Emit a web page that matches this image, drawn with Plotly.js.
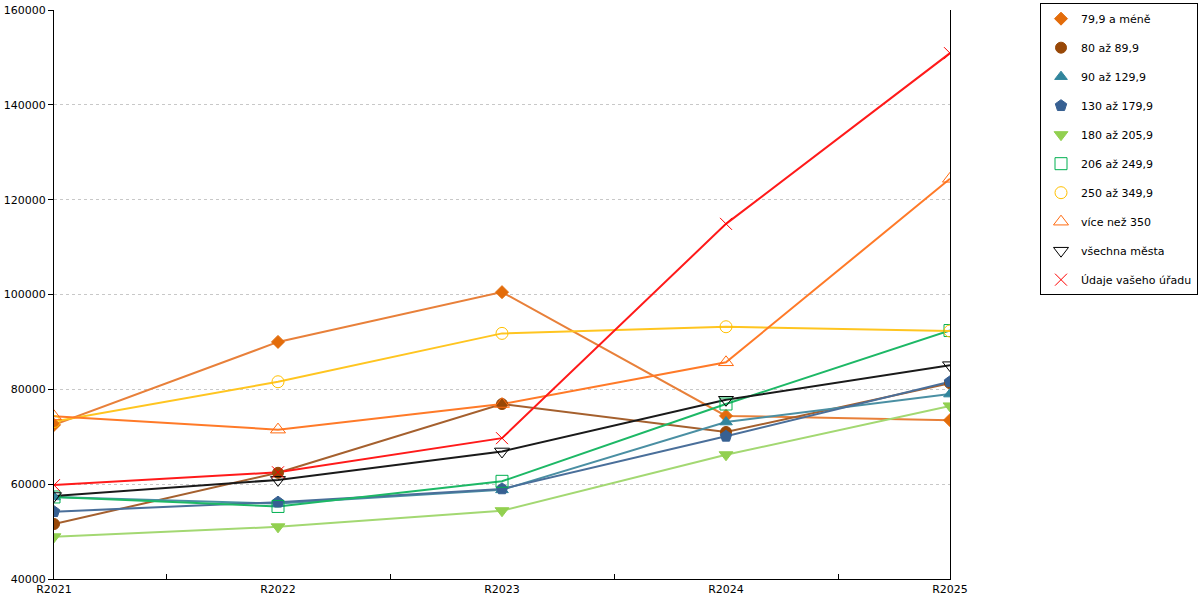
<!DOCTYPE html>
<html>
<head>
<meta charset="utf-8">
<script src="https://cdn.plot.ly/plotly-3.0.1.min.js"></script>
<style>
  html, body { margin: 0; padding: 0; background: #fff; }
  #chart { width: 1200px; height: 600px; }
</style>
</head>
<body>
<div id="chart"></div>
<script>
const years = ['R2021', 'R2022', 'R2023', 'R2024', 'R2025'];

const seriesNames = [
  '79,9 a méně', '80 až 89,9', '90 až 129,9', '130 až 179,9', '180 až 205,9',
  '206 až 249,9', '250 až 349,9', 'více než 350', 'všechna města', 'Údaje vašeho úřadu'
];

const s799 = [72500, 90000, 100500, 74400, 73500];
const s80 = [51600, 62400, 76900, 71000, 81300];
const s90 = [57300, 55900, 58800, 73100, 79000];
const s130 = [54200, 56200, 59000, 70100, 81600];
const s180 = [48900, 51000, 54400, 66200, 76500];
const s206 = [57300, 55300, 60600, 76900, 92400];
const s250 = [73200, 81600, 91800, 93200, 92300];
const s350 = [74300, 71500, 76900, 85700, 124400];
const sAll = [57500, 60900, 66900, 77800, 85100];
const sOffice = [59800, 62500, 69700, 114900, 150900];

const seriesValues = [s799, s80, s90, s130, s180, s206, s250, s350, sAll, sOffice];
const markerColors = ['#E36C0A', '#984807', '#31859C', '#376092', '#92D050',
                      '#00B050', '#FFC000', '#FF6B10', '#000000', '#FF0000'];
const lineColors = ['#E8803A', '#A5602E', '#4A8FA3', '#4A6F9A', '#A3D872',
                    '#1DB866', '#FFC520', '#FF7A28', '#1A1A1A', '#FF1A1A'];
const symbols = ['diamond', 'circle', 'triangle-up', 'pentagon', 'triangle-down',
                 'square-open', 'circle-open', 'triangle-up-open', 'triangle-down-open', 'x-thin-open'];
const sizes = [10, 11, 11, 12, 12, 12, 12, 13, 13, 12];

const xIdx = years.map((_, i) => i);

// lines without legend entries, markers carry the legend (reference legend shows symbols only)
const lineTraces = seriesValues.map((vals, i) => ({
  x: xIdx,
  y: vals,
  name: seriesNames[i],
  legendgroup: 'g' + i,
  showlegend: false,
  mode: 'lines',
  type: 'scatter',
  line: { color: lineColors[i], width: 2 }
}));

const markerTraces = seriesValues.map((vals, i) => ({
  x: xIdx,
  y: vals,
  name: seriesNames[i],
  legendgroup: 'g' + i,
  mode: 'markers',
  type: 'scatter',
  marker: {
    symbol: symbols[i],
    size: sizes[i],
    color: markerColors[i],
    line: { color: markerColors[i], width: 1 }
  }
}));

const layout = {
  width: 1200,
  height: 600,
  margin: { l: 54, r: 250, t: 10, b: 21, autoexpand: false },
  paper_bgcolor: '#ffffff',
  plot_bgcolor: '#ffffff',
  font: { family: 'DejaVu Sans, Verdana, sans-serif', size: 11, color: '#000' },
  showlegend: true,
  legend: {
    x: 1.2768, xanchor: 'right',
    y: 1.012, yanchor: 'top',
    bordercolor: '#000', borderwidth: 1,
    traceorder: 'grouped',
    tracegroupgap: 10,
    itemwidth: 30,
    font: { size: 11 }
  },
  xaxis: {
    range: [0, 4],
    tickvals: xIdx,
    ticktext: years,
    ticks: '',
    showgrid: false,
    zeroline: false,
    showline: true,
    linecolor: '#000',
    linewidth: 1,
    minor: { tick0: 0.5, dtick: 1, ticks: 'inside', ticklen: 5, tickcolor: '#000', showgrid: false },
    tickfont: { size: 11 }
  },
  yaxis: {
    range: [40000, 160000],
    dtick: 20000,
    ticks: 'outside',
    ticklen: 5,
    tickcolor: '#000',
    showline: true,
    linecolor: '#000',
    linewidth: 1,
    mirror: true,
    zeroline: false,
    showgrid: true,
    gridcolor: '#c8c8c8',
    griddash: 'dot',
    gridwidth: 1,
    tickformat: 'd',
    tickfont: { size: 11 }
  }
};

Plotly.newPlot('chart', lineTraces.concat(markerTraces), layout, { displayModeBar: false, staticPlot: true });
</script>
</body>
</html>
